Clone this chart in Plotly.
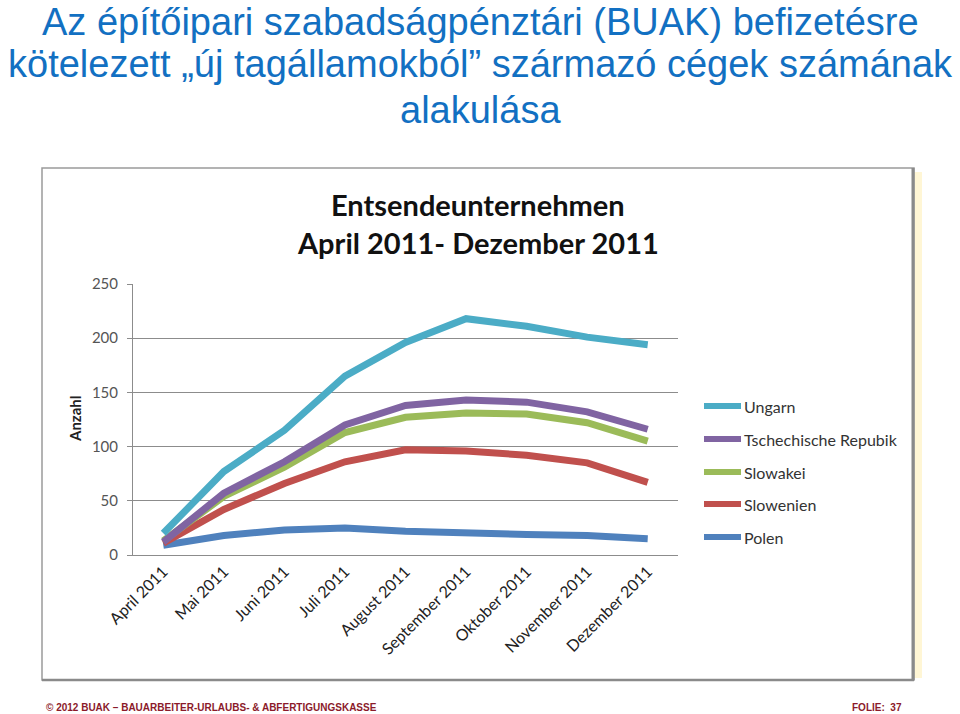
import plotly.graph_objects as go

months = ["April 2011", "Mai 2011", "Juni 2011", "Juli 2011", "August 2011",
          "September 2011", "Oktober 2011", "November 2011", "Dezember 2011"]
ungarn = [20, 77, 115, 165, 196, 218, 211, 201, 194]
tschechien = [12, 57, 86, 120, 138, 143, 141, 132, 116]
slowakei = [13, 54, 81, 113, 127, 131, 130, 122, 105]
slowenien = [11, 42, 66, 86, 97, 96, 92, 85, 67]
polen = [9, 18, 23, 25, 22, 20, 19, 18, 15]

series = [
    ("Ungarn", ungarn, "#4BACC6"),
    ("Tschechische Repubik", tschechien, "#8064A2"),
    ("Slowakei", slowakei, "#9BBB59"),
    ("Slowenien", slowenien, "#C0504D"),
    ("Polen", polen, "#4F81BD"),
]

W, H = 960, 714
def px(x): return x / W
def py(y): return 1 - y / H

fig = go.Figure()
for name, vals, col in reversed(series):
    fig.add_trace(go.Scatter(x=months, y=vals, mode="lines", name=name,
                             line=dict(color=col, width=7), showlegend=False))

shapes = []
annotations = []
# chart frame with shadow
shapes.append(dict(type="rect", xref="paper", yref="paper", x0=px(914), x1=px(922), y0=py(678), y1=py(172),
                   line=dict(width=0), fillcolor="#FFF6D5", layer="below"))
shapes.append(dict(type="rect", xref="paper", yref="paper", x0=px(42), x1=px(914), y0=py(680), y1=py(168),
                   line=dict(color="#9A9A9A", width=1.5), fillcolor="white", layer="below"))
shapes.append(dict(type="line", xref="paper", yref="paper", x0=px(913), x1=px(913), y0=py(680), y1=py(168),
                   line=dict(color="#8A8A8A", width=3)))
shapes.append(dict(type="line", xref="paper", yref="paper", x0=px(42), x1=px(914), y0=py(680), y1=py(680),
                   line=dict(color="#8A8A8A", width=2.5)))

# legend
leg_y = [406, 439, 472, 504, 537]
for (name, vals, col), yy in zip(series, leg_y):
    shapes.append(dict(type="line", xref="paper", yref="paper", x0=px(704), x1=px(741), y0=py(yy), y1=py(yy),
                       line=dict(color=col, width=6)))
    annotations.append(dict(text=name, xref="paper", yref="paper", x=px(742), y=py(yy), xanchor="left",
                            yanchor="middle", showarrow=False,
                            font=dict(family="Lato", size=16, color="#333333")))

# page title
title_lines = ["Az építőipari szabadságpénztári (BUAK) befizetésre",
               "kötelezett „új tagállamokból” származó cégek számának",
               "alakulása"]
for t, yy in zip(title_lines, [22, 64, 110]):
    annotations.append(dict(text=t, xref="paper", yref="paper", x=0.5, y=py(yy), xanchor="center",
                            yanchor="middle", showarrow=False,
                            font=dict(family="Liberation Sans, Arial", size=38, color="#1270C2")))

# chart title
for t, yy in zip(["<b>Entsendeunternehmen</b>", "<b>April 2011- Dezember 2011</b>"], [204, 242]):
    annotations.append(dict(text=t, xref="paper", yref="paper", x=px(478), y=py(yy), xanchor="center",
                            yanchor="middle", showarrow=False,
                            font=dict(family="Lato", size=29, color="#111111")))

# axis title
annotations.append(dict(text="<b>Anzahl</b>", xref="paper", yref="paper", x=px(75), y=py(419), xanchor="center",
                        yanchor="middle", showarrow=False, textangle=-90,
                        font=dict(family="Lato", size=15, color="#222222")))

# footer
annotations.append(dict(text="<b>© 2012 BUAK – BAUARBEITER-URLAUBS- & ABFERTIGUNGSKASSE</b>", xref="paper", yref="paper",
                        x=px(44), y=py(707), xanchor="left", yanchor="middle", showarrow=False,
                        font=dict(family="Liberation Sans Narrow, Liberation Sans", size=10, color="#8B1A2A")))
annotations.append(dict(text="<b>FOLIE:  37</b>", xref="paper", yref="paper",
                        x=px(850), y=py(707), xanchor="left", yanchor="middle", showarrow=False,
                        font=dict(family="Liberation Sans Narrow, Liberation Sans", size=10, color="#8B1A2A")))

fig.update_layout(
    width=W, height=H, margin=dict(l=0, r=0, t=0, b=0, autoexpand=False),
    paper_bgcolor="white", plot_bgcolor="white",
    shapes=shapes, annotations=annotations,
    xaxis=dict(domain=[px(133), px(678)], type="category", range=[-0.5, 8.5], tickangle=-45, automargin=False,
               showgrid=False, showline=True, linecolor="#8C8C8C", linewidth=1,
               ticks="", tickfont=dict(family="Lato", size=16, color="#222222")),
    yaxis=dict(domain=[py(555), py(284)], range=[0, 250], tickvals=[0, 50, 100, 150, 200, 250],
               automargin=False, ticklabelstandoff=6,
               showgrid=True, gridcolor="#8C8C8C", gridwidth=1, showline=True, linecolor="#8C8C8C",
               ticks="outside", ticklen=5, tickcolor="#8C8C8C", zeroline=False,
               tickfont=dict(family="Lato", size=15, color="#555555")),
)

fig.write_html("out.html")
